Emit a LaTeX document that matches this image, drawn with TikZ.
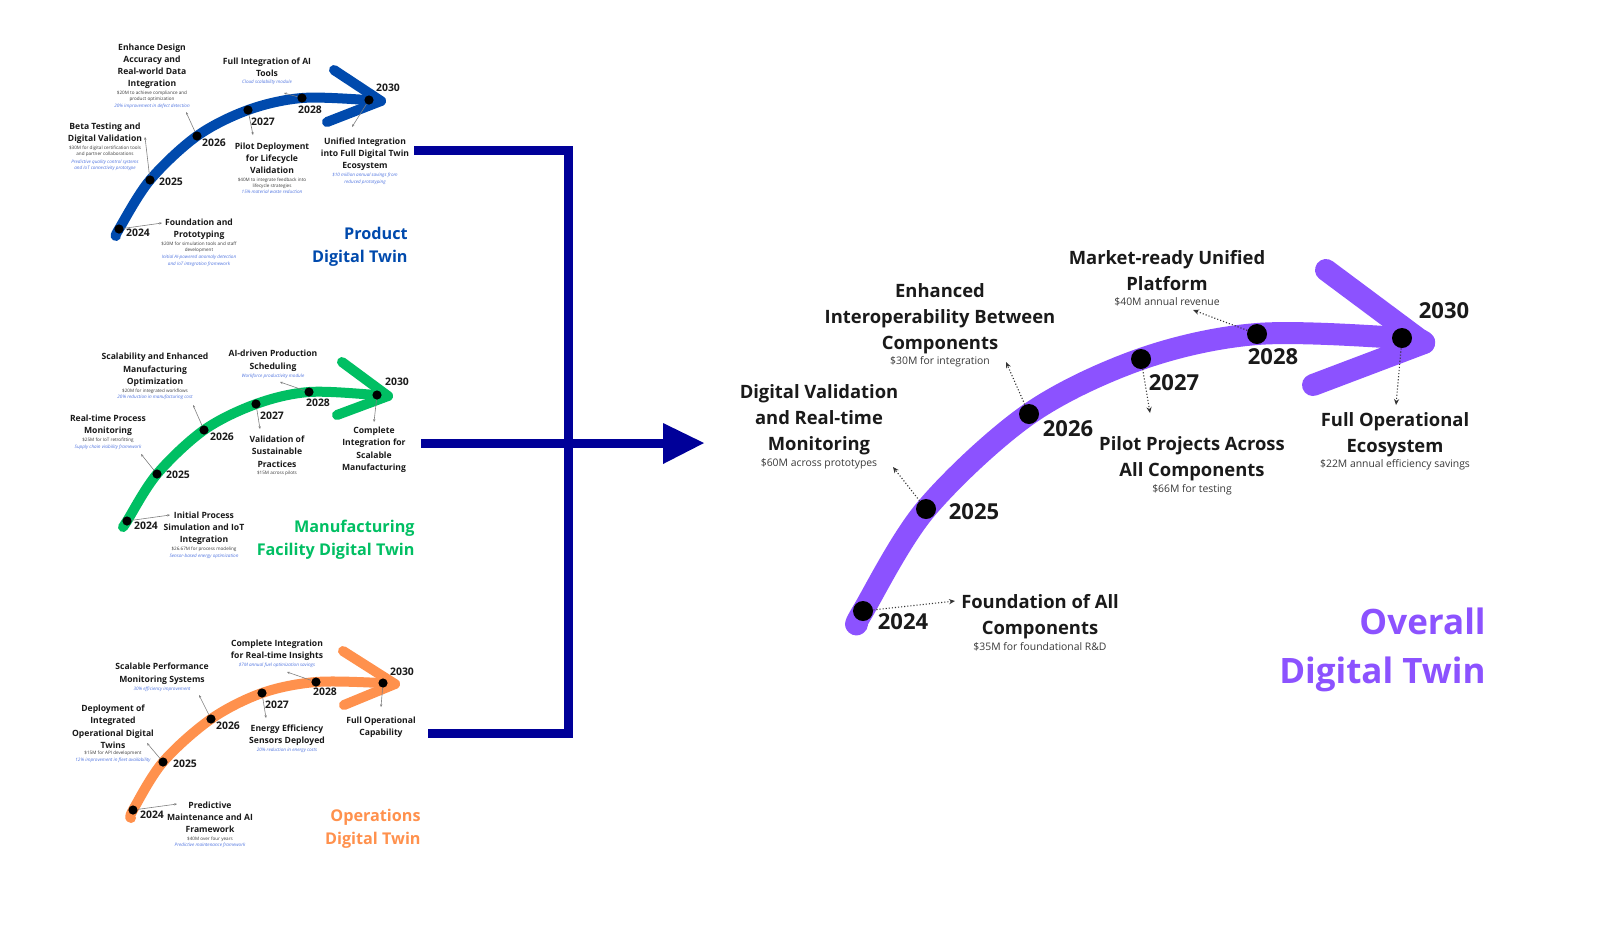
\documentclass[tikz,border=0pt]{standalone}
\usepackage{fontspec}
\setmainfont{Open Sans}
\usetikzlibrary{arrows.meta}
\definecolor{cpurple}{HTML}{8C52FF}
\definecolor{cblue}{HTML}{004AAD}
\definecolor{cgreen}{HTML}{00BF63}
\definecolor{corange}{HTML}{FF914D}
\definecolor{cnavy}{RGB}{0,0,153}
\definecolor{clink}{HTML}{4F74E0}
\definecolor{cgray}{HTML}{3A3A3A}
\definecolor{ctext}{HTML}{1A1A1A}
\begin{document}
\begin{tikzpicture}[x=0.5pt,y=-0.5pt,
  bigband/.style={line width=11pt, line cap=round, line join=round},
  smband/.style={line width=5pt, line cap=round, line join=round},
  bigdot/.style={circle, fill=black, minimum size=10pt, inner sep=0pt},
  smdot/.style={circle, fill=black, minimum size=4.6pt, inner sep=0pt},
  bigyear/.style={inner sep=0pt, text=ctext, font=\bfseries\fontsize{11}{13}\selectfont},
  smyear/.style={inner sep=0pt, text=ctext, font=\bfseries\fontsize{5.2}{6}\selectfont},
  biglab/.style={align=center, inner sep=0pt, yshift=-1.5pt, text=ctext, font=\bfseries\fontsize{9.2}{13}\selectfont},
  bignote/.style={align=center, inner sep=0pt, yshift=-0.5pt, text=cgray, font=\fontsize{5.2}{6}\selectfont},
  smlab/.style={align=center, inner sep=0pt, text=ctext, font=\bfseries\fontsize{4.3}{6.15}\selectfont},
  smnote/.style={align=center, inner sep=0pt, text=cgray, font=\fontsize{2.3}{3}\selectfont},
  smlink/.style={align=center, inner sep=0pt, text=clink, font=\itshape\fontsize{2.3}{3.2}\selectfont},
  bigtitle/.style={align=right, anchor=east, inner sep=0pt, yshift=-1.7pt, text=cpurple, font=\bfseries\fontsize{17.5}{24.5}\selectfont},
  smtitle/.style={align=right, anchor=east, inner sep=0pt, yshift=-1pt, font=\bfseries\fontsize{8.1}{11.5}\selectfont},
  bigcon/.style={densely dotted, line width=0.55pt, black!80, -{Stealth[length=3pt,width=2.6pt]}},
  smcon/.style={gray, line width=0.3pt, -{Stealth[length=1.4pt,width=1.2pt]}},
  navyline/.style={cnavy, line width=4.5pt, line join=miter}
]
\fill[white] (0,0) rectangle (1600,934);
\useasboundingbox (0,0) rectangle (1600,934);

% ================= Navy bracket =================
\coordinate (nTa) at (414,150);
\coordinate (nTb) at (568,150);
\coordinate (nBb) at (568,733);
\coordinate (nBa) at (428,733);
\coordinate (nMa) at (421,443);
\coordinate (nMb) at (664,443);
\draw[navyline] (nTa) -- (nTb) -- (nBb) -- (nBa);
\draw[navyline] (nMa) -- (nMb);
\fill[cnavy] (663,423) -- (704,443) -- (663,464) -- cycle;

% ================= Overall Digital Twin =================
\coordinate (O0) at (857,624);
\coordinate (O24) at (863,611);
\coordinate (O25) at (926,509);
\coordinate (O26) at (1029,414);
\coordinate (O27) at (1141,359);
\coordinate (O28) at (1257,334);
\coordinate (O30) at (1402,338);
\coordinate (Otip) at (1424,343);
\draw[bigband, cpurple] plot[smooth, tension=0.55] coordinates {(O0) (O24) (O25) (O26) (O27) (O28) (O30) (Otip)};
\coordinate (OarmU) at (1326,270);
\coordinate (OarmL) at (1313,385);
\draw[bigband, cpurple] (OarmU) -- (Otip) -- (OarmL);

\node[bigdot] (d24) at (O24) {};
\node[bigdot] (d25) at (O25) {};
\node[bigdot] (d26) at (O26) {};
\node[bigdot] (d27) at (O27) {};
\node[bigdot] (d28) at (O28) {};
\node[bigdot] (d30) at (O30) {};

\node[bigyear] (y24) at (903,622) {2024};
\node[bigyear] (y25) at (974,512) {2025};
\node[bigyear] (y26) at (1068,429) {2026};
\node[bigyear] (y27) at (1174,383) {2027};
\node[bigyear] (y28) at (1273,357) {2028};
\node[bigyear] (y30) at (1444,311) {2030};

\coordinate (Oc24) at (955,601);
\coordinate (Oc25) at (893,467);
\coordinate (Oc26) at (1006,362);
\coordinate (Oc27) at (1150,413);
\coordinate (Oc28) at (1193,310);
\coordinate (Oc30) at (1396,405);
\draw[bigcon] (d24) -- (Oc24);
\draw[bigcon] (d25) -- (Oc25);
\draw[bigcon] (d26) -- (Oc26);
\draw[bigcon] (d27) -- (Oc27);
\draw[bigcon] (d28) -- (Oc28);
\draw[bigcon] (d30) -- (Oc30);

\node[biglab] (l24) at (1040,614) {Foundation of All\\Components};
\node[bignote] (n24) at (1040,646) {\$35M for foundational R\&D};
\node[biglab] (l25) at (819,417) {Digital Validation\\and Real-time\\Monitoring};
\node[bignote] (n25) at (819,463) {\$60M across prototypes};
\node[biglab] (l26) at (940,316) {Enhanced\\Interoperability Between\\Components};
\node[bignote] (n26) at (940,361) {\$30M for integration};
\node[biglab] (l27) at (1192,455.5) {Pilot Projects Across\\All Components};
\node[bignote] (n27) at (1192,489) {\$66M for testing};
\node[biglab] (l28) at (1167,267.5) {Market-ready Unified\\Platform};
\node[bignote] (n28) at (1167,301) {\$40M annual revenue};
\node[biglab] (l30) at (1395,431.5) {Full Operational\\Ecosystem};
\node[bignote] (n30) at (1395,464) {\$22M annual efficiency savings};

\node[bigtitle] (otitle) at (1486,646.5) {Overall\\Digital Twin};

% ================= Product Digital Twin =================
\coordinate (B0) at (116,236);
\coordinate (B24) at (119,229);
\coordinate (B25) at (150,180);
\coordinate (B26) at (197,136);
\coordinate (B27) at (248,110);
\coordinate (B28) at (302,98);
\coordinate (B30) at (369,100);
\coordinate (Btip) at (381,101);
\draw[smband, cblue] plot[smooth, tension=0.55] coordinates {(B0) (B24) (B25) (B26) (B27) (B28) (B30) (Btip)};
\coordinate (BarmU) at (334,70);
\coordinate (BarmL) at (327,122);
\draw[smband, cblue] (BarmU) -- (Btip) -- (BarmL);
\node[smdot] (b24) at (B24) {};
\node[smdot] (b25) at (B25) {};
\node[smdot] (b26) at (B26) {};
\node[smdot] (b27) at (B27) {};
\node[smdot] (b28) at (B28) {};
\node[smdot] (b30) at (B30) {};
\node[smyear] at (138,233) {2024};
\node[smyear] at (171,182) {2025};
\node[smyear] at (214,143) {2026};
\node[smyear] at (263,122) {2027};
\node[smyear] at (310,110) {2028};
\node[smyear] at (388,88) {2030};
\coordinate (Bc24) at (162,223);
\coordinate (Bc25) at (145,137);
\coordinate (Bc26) at (186,112);
\coordinate (Bc27) at (253,135);
\coordinate (Bc28) at (284,93);
\coordinate (Bc30) at (352,127);
\draw[smcon] (b24) -- (Bc24);
\draw[smcon] (b25) -- (Bc25);
\draw[smcon] (b26) -- (Bc26);
\draw[smcon] (b27) -- (Bc27);
\draw[smcon] (b28) -- (Bc28);
\draw[smcon] (b30) -- (Bc30);

\node[smlab] (bl26) at (152,66.3) {Enhance Design\\Accuracy and\\Real-world Data\\Integration};
\node[smnote] (bn26) at (152,96.3) {\$20M to achieve compliance and\\product optimization};
\node[smlink] (bk26) at (152,106) {20\% improvement in defect detection};
\node[smlab] (bl25) at (105,133) {Beta Testing and\\Digital Validation};
\node[smnote] (bn25) at (105,151.3) {\$30M for digital certification tools\\and partner collaborations};
\node[smlink] (bk25) at (105,165) {Predictive quality control systems\\and IoT connectivity prototype};
\node[smlab] (bl24) at (199,229.3) {Foundation and\\Prototyping};
\node[smnote] (bn24) at (199,247.7) {\$20M for simulation tools and staff\\development};
\node[smlink] (bk24) at (199,260.7) {Initial AI-powered anomaly detection\\and IoT integration framework};
\node[smlab] (bl28) at (267,67.5) {Full Integration of AI\\Tools};
\node[smlink] (bk28) at (267,82.7) {Cloud scalability module};
\node[smlab] (bl27) at (272,158.3) {Pilot Deployment\\for Lifecycle\\Validation};
\node[smnote] (bn27) at (272,182.9) {\$40M to integrate feedback into\\lifecycle strategies};
\node[smlink] (bk27) at (272,191.7) {15\% material waste reduction};
\node[smlab] (bl30) at (365,154.2) {Unified Integration\\into Full Digital Twin\\Ecosystem};
\node[smlink] (bk30) at (365,178.7) {\$10 million annual savings from\\reduced prototyping};
\node[smtitle, text=cblue] (btitle) at (408,244.5) {Product\\Digital Twin};

% ================= Manufacturing Facility Digital Twin =================
\coordinate (G0) at (123,527);
\coordinate (G24) at (127,521);
\coordinate (G25) at (157,474);
\coordinate (G26) at (204,430);
\coordinate (G27) at (256,404);
\coordinate (G28) at (309,392);
\coordinate (G30) at (377,395);
\coordinate (Gtip) at (388,396);
\draw[smband, cgreen] plot[smooth, tension=0.55] coordinates {(G0) (G24) (G25) (G26) (G27) (G28) (G30) (Gtip)};
\coordinate (GarmU) at (342,362);
\coordinate (GarmL) at (337,415);
\draw[smband, cgreen] (GarmU) -- (Gtip) -- (GarmL);
\node[smdot] (g24) at (G24) {};
\node[smdot] (g25) at (G25) {};
\node[smdot] (g26) at (G26) {};
\node[smdot] (g27) at (G27) {};
\node[smdot] (g28) at (G28) {};
\node[smdot] (g30) at (G30) {};
\node[smyear] at (146,526) {2024};
\node[smyear] at (178,475) {2025};
\node[smyear] at (222,437) {2026};
\node[smyear] at (272,416) {2027};
\node[smyear] at (318,403) {2028};
\node[smyear] at (397,382) {2030};
\coordinate (Gc24) at (170,515);
\coordinate (Gc25) at (141,454);
\coordinate (Gc26) at (193,405);
\coordinate (Gc27) at (260,429);
\coordinate (Gc28) at (280,382);
\coordinate (Gc30) at (374,422);
\draw[smcon] (g24) -- (Gc24);
\draw[smcon] (g25) -- (Gc25);
\draw[smcon] (g26) -- (Gc26);
\draw[smcon] (g27) -- (Gc27);
\draw[smcon] (g28) -- (Gc28);
\draw[smcon] (g30) -- (Gc30);

\node[smlab] (gl26) at (155,369.8) {Scalability and Enhanced\\Manufacturing\\Optimization};
\node[smnote] (gn26) at (155,391) {\$20M for integrated workflows};
\node[smlink] (gk26) at (155,397.3) {20\% reduction in manufacturing cost};
\node[smlab] (gl25) at (108,425.3) {Real-time Process\\Monitoring};
\node[smnote] (gn25) at (108,440) {\$25M for IoT retrofitting};
\node[smlink] (gk25) at (108,447.3) {Supply chain visibility framework};
\node[smlab] (gl28) at (273,360.8) {AI-driven Production\\Scheduling};
\node[smlink] (gk28) at (273,376) {Workforce productivity module};
\node[smlab] (gl27) at (277,451.7) {Validation of\\Sustainable\\Practices};
\node[smnote] (gn27) at (277,473.3) {\$15M across pilots};
\node[smlab] (gl30) at (374,449.7) {Complete\\Integration for\\Scalable\\Manufacturing};
\node[smlab] (gl24) at (204,528.2) {Initial Process\\Simulation and IoT\\Integration};
\node[smnote] (gn24) at (204,549.3) {\$26.67M for process modeling};
\node[smlink] (gk24) at (204,556) {Sensor-based energy optimization};
\node[smtitle, text=cgreen] (gtitle) at (415,537.5) {Manufacturing\\Facility Digital Twin};

% ================= Operations Digital Twin =================
\coordinate (R0) at (131,818);
\coordinate (R24) at (133,810);
\coordinate (R25) at (163,762);
\coordinate (R26) at (211,719);
\coordinate (R27) at (262,693);
\coordinate (R28) at (316,682);
\coordinate (R30) at (383,683);
\coordinate (Rtip) at (395,684);
\draw[smband, corange] plot[smooth, tension=0.55] coordinates {(R0) (R24) (R25) (R26) (R27) (R28) (R30) (Rtip)};
\coordinate (RarmU) at (343,651);
\coordinate (RarmL) at (344,705);
\draw[smband, corange] (RarmU) -- (Rtip) -- (RarmL);
\node[smdot] (r24) at (R24) {};
\node[smdot] (r25) at (R25) {};
\node[smdot] (r26) at (R26) {};
\node[smdot] (r27) at (R27) {};
\node[smdot] (r28) at (R28) {};
\node[smdot] (r30) at (R30) {};
\node[smyear] at (152,815) {2024};
\node[smyear] at (185,764) {2025};
\node[smyear] at (228,726) {2026};
\node[smyear] at (277,705) {2027};
\node[smyear] at (325,692) {2028};
\node[smyear] at (402,672) {2030};
\coordinate (Rc24) at (177,804);
\coordinate (Rc25) at (147,743);
\coordinate (Rc26) at (199,695);
\coordinate (Rc27) at (266,718);
\coordinate (Rc28) at (287,672);
\coordinate (Rc30) at (381,707);
\draw[smcon] (r24) -- (Rc24);
\draw[smcon] (r25) -- (Rc25);
\draw[smcon] (r26) -- (Rc26);
\draw[smcon] (r27) -- (Rc27);
\draw[smcon] (r28) -- (Rc28);
\draw[smcon] (r30) -- (Rc30);

\node[smlab] (rl28) at (277,650.5) {Complete Integration\\for Real-time Insights};
\node[smlink] (rk28) at (277,665) {\$7M annual fuel optimization savings};
\node[smlab] (rl26) at (162,673.7) {Scalable Performance\\Monitoring Systems};
\node[smlink] (rk26) at (162,689) {30\% efficiency improvement};
\node[smlab] (rl25) at (113,726.7) {Deployment of\\Integrated\\Operational Digital\\Twins};
\node[smnote] (rn25) at (113,753.3) {\$15M for API development};
\node[smlink] (rk25) at (113,760) {12\% improvement in fleet availability};
\node[smlab] (rl27) at (287,735) {Energy Efficiency\\Sensors Deployed};
\node[smlink] (rk27) at (287,750) {20\% reduction in energy costs};
\node[smlab] (rl30) at (381,727) {Full Operational\\Capability};
\node[smlab] (rl24) at (210,817.2) {Predictive\\Maintenance and AI\\Framework};
\node[smnote] (rn24) at (210,839) {\$40M over four years};
\node[smlink] (rk24) at (210,845) {Predictive maintenance framework};
\node[smtitle, text=corange] (rtitle) at (421,826.5) {Operations\\Digital Twin};
\end{tikzpicture}
\end{document}
